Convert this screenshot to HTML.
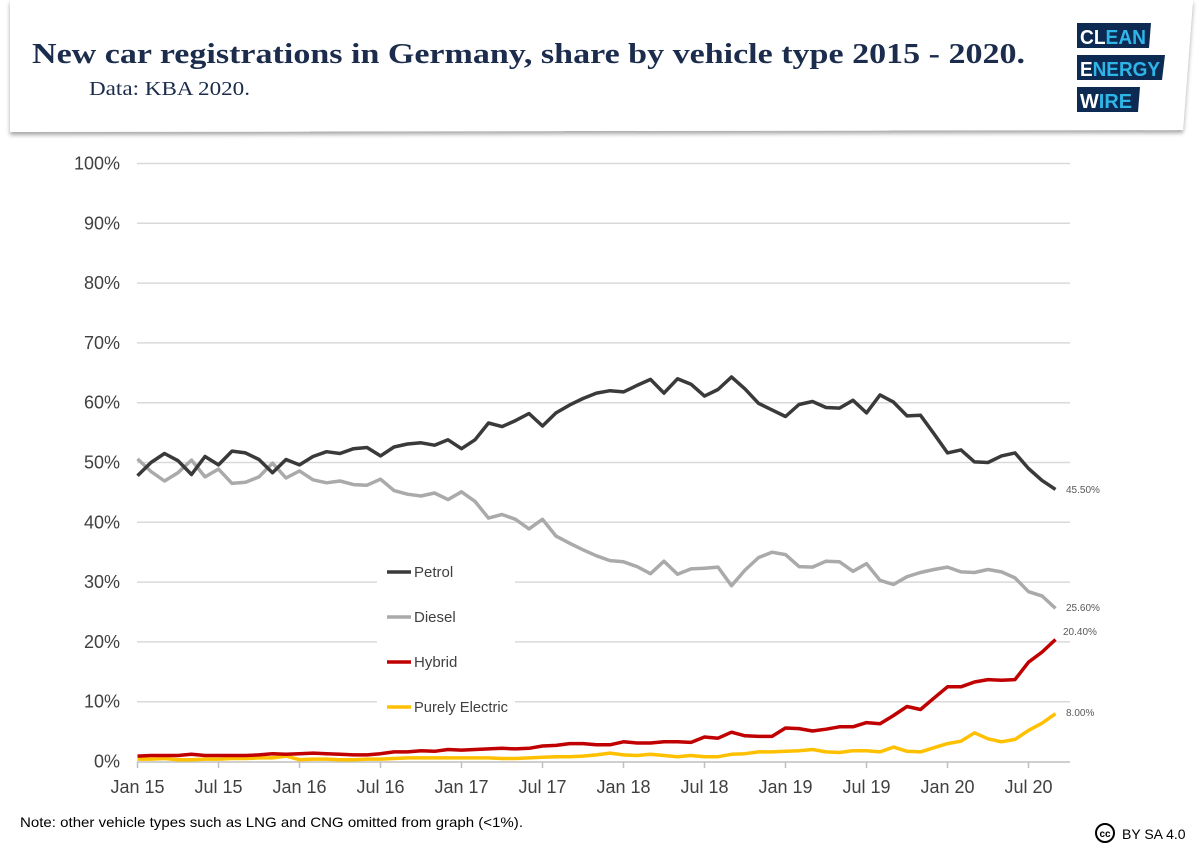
<!DOCTYPE html>
<html><head><meta charset="utf-8">
<style>
body{margin:0;background:#fff;width:1200px;height:848px;overflow:hidden;position:relative;font-family:"Liberation Sans",sans-serif;}
svg{position:absolute;left:0;top:0}
</style></head><body>
<svg width="1200" height="848" viewBox="0 0 1200 848" xmlns="http://www.w3.org/2000/svg">
<defs><filter id="sh" x="-5%" y="-20%" width="110%" height="150%"><feDropShadow dx="0" dy="3" stdDeviation="2" flood-color="#000" flood-opacity="0.35"/></filter></defs>
<polygon points="0,0 1193,0 1183,130 10,132 10,0" fill="#fff" filter="url(#sh)"/>
<text x="32" y="63" font-family="Liberation Serif,serif" font-weight="bold" font-size="29" fill="#1c2c4c" textLength="993" lengthAdjust="spacingAndGlyphs">New car registrations in Germany, share by vehicle type 2015 - 2020.</text>
<text x="89" y="95" font-family="Liberation Serif,serif" font-size="20" fill="#1c2c4c" textLength="161" lengthAdjust="spacingAndGlyphs">Data: KBA 2020.</text>
<g font-weight="bold" font-size="20">
<polygon points="1077,23 1151,23 1149,48 1077,48" fill="#0d2a52"/>
<text x="1080" y="44" textLength="66" lengthAdjust="spacingAndGlyphs"><tspan fill="#fff">CL</tspan><tspan fill="#2fb6e8">EAN</tspan></text>
<polygon points="1077,55 1165,55 1162,80 1077,80" fill="#0d2a52"/>
<text x="1080" y="76" textLength="80" lengthAdjust="spacingAndGlyphs"><tspan fill="#fff">E</tspan><tspan fill="#2fb6e8">NERGY</tspan></text>
<polygon points="1077,87 1140,87 1138,112 1077,112" fill="#0d2a52"/>
<text x="1080" y="108" textLength="52" lengthAdjust="spacingAndGlyphs"><tspan fill="#fff">W</tspan><tspan fill="#2fb6e8">IRE</tspan></text>
</g>
<g id="grid" stroke="#d9d9d9" stroke-width="1.5"></g>
<g id="ylab" font-size="18" fill="#404040" text-anchor="end"></g>
<line x1="137" y1="762" x2="1070" y2="762" stroke="#bfbfbf" stroke-width="1.5"/>
<g id="ticks" stroke="#bfbfbf" stroke-width="1.5"></g>
<g id="xlab" font-size="18" fill="#404040" text-anchor="middle"></g>
<rect x="377" y="550" width="138" height="180" fill="#fff"/>
<g id="series" fill="none" stroke-width="3.5" stroke-linejoin="round"></g>
<g font-size="15" fill="#404040">
<line x1="387" y1="572" x2="411" y2="572" stroke="#3a3a3a" stroke-width="3.5"/><text x="414" y="577">Petrol</text>
<line x1="387" y1="617" x2="411" y2="617" stroke="#aaa" stroke-width="3.5"/><text x="414" y="622">Diesel</text>
<line x1="387" y1="662" x2="411" y2="662" stroke="#c00000" stroke-width="3.5"/><text x="414" y="667">Hybrid</text>
<line x1="387" y1="707" x2="411" y2="707" stroke="#ffc000" stroke-width="3.5"/><text x="414" y="712" textLength="94" lengthAdjust="spacingAndGlyphs">Purely Electric</text>
</g>
<g font-size="10" fill="#595959">
<text x="1066" y="493">45.50%</text>
<text x="1066" y="611">25.60%</text>
<text x="1063" y="635">20.40%</text>
<text x="1066" y="716">8.00%</text>
</g>
<text x="20" y="827" font-size="14" fill="#000" textLength="503" lengthAdjust="spacingAndGlyphs">Note: other vehicle types such as LNG and CNG omitted from graph (&lt;1%).</text>
<circle cx="1105" cy="833" r="9" fill="#fff" stroke="#000" stroke-width="2"/>
<text x="1105" y="837" font-size="10" font-weight="bold" text-anchor="middle">cc</text>
<text x="1122" y="839" font-size="14" fill="#000">BY SA 4.0</text>
</svg>
<script>
var NS="http://www.w3.org/2000/svg";
function el(p,t,a,txt){var e=document.createElementNS(NS,t);for(var k in a)e.setAttribute(k,a[k]);if(txt)e.textContent=txt;document.getElementById(p).appendChild(e);}
function Y(v){return 761.5-v*5.98;}
function X(i){return 137.5+13.5*i;}
for(var g=0;g<=100;g+=10){var y=Y(g);if(g>0)el("grid","line",{x1:137,x2:1070,y1:y,y2:y});el("ylab","text",{x:120,y:y+6},g+"%");}
var lab=["Jan 15","Jul 15","Jan 16","Jul 16","Jan 17","Jul 17","Jan 18","Jul 18","Jan 19","Jul 19","Jan 20","Jul 20"];
for(var i=0;i<12;i++){var x=X(i*6);el("ticks","line",{x1:x,x2:x,y1:762,y2:768});el("xlab","text",{x:x,y:793},lab[i]);}
var P=[47.8,50,51.5,50.3,48,51,49.6,51.9,51.6,50.5,48.3,50.5,49.6,51,51.8,51.5,52.3,52.5,51.1,52.6,53.1,53.3,52.9,53.8,52.3,53.8,56.6,56,57,58.2,56.1,58.3,59.6,60.7,61.6,62,61.8,62.9,63.9,61.6,64,63.1,61.1,62.2,64.3,62.3,59.9,58.8,57.7,59.7,60.2,59.2,59.1,60.4,58.3,61.3,60.1,57.8,57.9,54.8,51.6,52.1,50.1,50,51.1,51.6,49,47,45.5];
var D=[50.6,48.5,46.9,48.3,50.4,47.6,48.9,46.5,46.7,47.6,49.9,47.4,48.6,47.1,46.6,46.9,46.3,46.2,47.2,45.3,44.7,44.4,44.9,43.8,45.1,43.5,40.7,41.3,40.5,38.9,40.5,37.7,36.5,35.4,34.4,33.6,33.4,32.6,31.4,33.5,31.3,32.2,32.3,32.5,29.4,32,34.1,35,34.6,32.6,32.5,33.5,33.4,31.8,33.1,30.3,29.6,30.9,31.6,32.1,32.5,31.7,31.6,32.1,31.7,30.7,28.4,27.7,25.6];
var H=[0.9,1,1,1,1.2,1,1,1,1,1.1,1.3,1.2,1.3,1.4,1.3,1.2,1.1,1.1,1.3,1.6,1.6,1.8,1.7,2,1.9,2,2.1,2.2,2.1,2.2,2.6,2.7,3,3,2.8,2.8,3.3,3.1,3.1,3.3,3.3,3.2,4.1,3.9,4.9,4.3,4.2,4.2,5.6,5.5,5.1,5.4,5.8,5.8,6.5,6.3,7.7,9.2,8.7,10.6,12.5,12.5,13.3,13.7,13.6,13.7,16.6,18.3,20.4];
var E=[0.4,0.4,0.5,0.3,0.3,0.4,0.4,0.5,0.5,0.6,0.6,0.9,0.3,0.4,0.4,0.3,0.3,0.4,0.4,0.5,0.6,0.6,0.6,0.6,0.6,0.6,0.6,0.5,0.5,0.6,0.7,0.8,0.8,0.9,1.1,1.4,1.1,1,1.2,1,0.8,1,0.8,0.8,1.2,1.3,1.6,1.6,1.7,1.8,2,1.6,1.5,1.8,1.8,1.6,2.4,1.7,1.6,2.3,3,3.4,4.8,3.8,3.3,3.7,5.2,6.4,8];
function path(a,c){var d="";for(var i=0;i<a.length;i++)d+=(i?"L":"M")+X(i).toFixed(1)+","+Y(a[i]).toFixed(1);el("series","path",{d:d,stroke:c});}
path(E,"#ffc000");path(H,"#c00000");path(D,"#aaaaaa");path(P,"#3a3a3a");
</script>
</body></html>
